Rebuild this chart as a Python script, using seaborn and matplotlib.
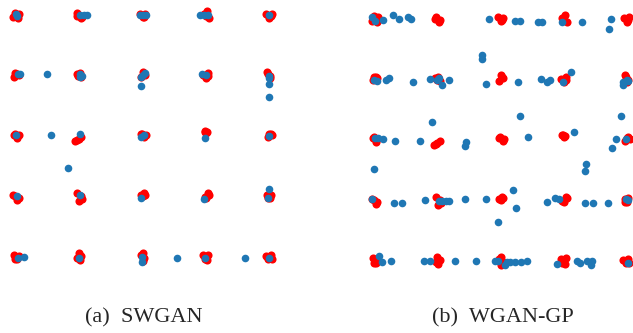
import matplotlib
matplotlib.use("Agg")
import matplotlib.pyplot as plt
import seaborn as sns

# real samples (red), 25 gaussians on a 5x5 grid, 4 samples each
real_x = [-2.04, -1.97, -1.95, -2.02, -1.03, -0.96, -0.98, -1.04, 0.00, 0.04, -0.04, 0.02, 1.02, 1.05, 0.97, 1.00, 1.96, 2.04, 2.00, 2.03,
          -1.99, -2.03, -1.96, -2.01, -1.04, -0.97, -0.99, -1.02, 0.01, 0.04, -0.03, 0.02, 1.03, 0.96, 1.00, 1.04, 1.97, 2.02, 1.99, 2.01,
          -2.03, -1.98, -1.96, -2.02, -1.06, -1.01, -0.97, -1.03, -0.02, 0.03, 0.05, -0.01, 0.98, 1.01, 1.02, 0.99, 2.03, 1.98, 2.05, 2.00,
          -2.05, -1.96, -1.99, -2.02, -1.03, -0.97, -0.95, -1.00, 0.02, -0.02, 0.04, 0.00, 1.03, 0.98, 1.05, 1.01, 1.97, 2.03, 2.01, 1.98,
          -2.03, -1.96, -1.98, -2.02, -1.01, -0.97, -0.99, -1.03, 0.01, -0.03, 0.03, 0.00, 0.96, 1.04, 1.02, 0.98, 1.95, 2.03, 2.04, 1.99]
real_y = [1.96, 1.95, 2.02, 2.04, 2.03, 1.97, 1.95, 1.99, 1.96, 2.01, 2.02, 1.97, 2.06, 1.95, 2.01, 1.98, 2.01, 2.02, 1.95, 1.98,
          1.03, 0.98, 1.01, 1.04, 1.02, 0.97, 1.04, 0.99, 1.06, 1.01, 0.97, 1.03, 1.04, 1.00, 0.96, 0.99, 1.06, 0.99, 1.03, 0.96,
          0.02, -0.04, 0.01, 0.04, -0.09, -0.05, -0.02, -0.07, 0.03, -0.02, 0.01, 0.04, 0.07, 0.05, 0.06, 0.08, 0.04, -0.02, 0.01, 0.03,
          -0.98, -1.02, -1.06, -1.00, -0.95, -0.99, -1.04, -1.07, -0.95, -0.98, -0.97, -1.00, -0.95, -1.01, -0.97, -1.03, -0.98, -0.97, -1.02, -1.03,
          -1.96, -1.98, -2.04, -2.03, -1.93, -1.98, -2.05, -2.02, -1.93, -1.97, -2.02, -2.06, -1.97, -1.96, -2.05, -2.03, -1.99, -1.97, -2.03, -2.04]

# generated samples (blue), SWGAN
swgan_x = [-2.00, -1.98, -0.99, -0.93, -0.88, -0.04, 0.01, 0.06, 0.91, 0.97, 1.04, 2.00,
           -1.97, -1.94, -1.51, -0.99, -0.96, -0.99, 0.04, 0.01, -0.02, -0.02, 0.94, 1.00, 2.00, 2.00, 2.00, 2.00,
           -2.00, -1.45, -0.99, -0.02, 0.02, 0.99, 2.00, -1.18,
           -1.98, -0.99, -0.02, 0.97, 2.00, 1.98,
           -1.97, -1.87, -1.00, -0.01, -0.01, 0.55, 0.99, 1.62, 2.00]
swgan_y = [2.02, 1.98, 2.00, 2.00, 2.00, 2.00, 2.00, 2.00, 2.00, 2.00, 2.00, 2.00,
           1.02, 1.02, 1.02, 1.02, 0.99, 0.97, 1.04, 1.01, 0.97, 0.83, 1.02, 1.01, 0.99, 0.96, 0.86, 0.65,
           0.02, 0.02, 0.03, -0.02, 0.02, -0.03, 0.00, -0.53,
           -0.99, -0.97, -1.02, -1.04, -0.88, -1.02,
           -2.02, -2.00, -2.02, -2.00, -2.08, -2.02, -2.02, -2.02, -2.02]

# generated samples (blue), WGAN-GP
wgan_x = [-2.04, -2.00, -1.87, -1.72, -1.62, -1.47, -1.43, -0.18, 0.23, 0.31, 0.59, 0.66, 0.97, 1.30, 1.75, 1.72,
          -0.30, -0.30,
          -2.01, -1.96, -1.83, -1.78, -1.39, -1.12, -0.98, -1.02, -0.94, -0.83, -0.23, 0.28, 0.64, 0.74, 0.78, 1.11, 0.99, 1.95, 1.95, 2.03, 2.00,
          -1.10, 0.30, 1.91,
          -2.00, -1.95, -1.87, -1.68, -1.29, -0.55, -0.56, 0.43, 1.17, 1.83, 1.99, 1.77,
          -2.01, 1.35, 1.34, 0.20, 0.25, -0.05,
          -2.04, -1.70, -1.57, -1.20, -0.98, -0.93, -0.87, -0.83, -0.57, -0.23, 0.73, 0.86, 0.93, 1.34, 1.47, 1.71, 2.02, 1.99,
          -1.93, -1.89, -1.74, -1.22, -1.12, -0.73, -0.40, -0.09, -0.04, 0.07, 0.10, 0.15, 0.23, 0.32, 0.42, 0.89, 1.21, 1.26, 1.37, 1.45, 1.43, 2.02]
wgan_y = [2.02, 1.96, 1.98, 2.06, 1.99, 2.03, 1.99, 1.99, 1.96, 1.96, 1.94, 1.94, 1.95, 1.95, 1.99, 1.82,
          1.40, 1.33,
          0.99, 0.97, 0.99, 1.02, 0.96, 1.00, 1.02, 0.99, 0.90, 0.99, 0.92, 0.95, 1.00, 0.96, 0.98, 1.12, 0.96, 0.96, 0.91, 0.97, 0.99,
          0.30, 0.39, 0.39,
          0.02, 0.02, 0.01, -0.02, -0.02, -0.03, -0.10, 0.05, 0.12, 0.01, 0.01, -0.13,
          -0.49, -0.40, -0.51, -0.83, -1.13, -1.36,
          -0.98, -1.04, -1.04, -1.00, -1.01, -1.01, -1.01, -1.01, -0.98, -0.98, -1.02, -0.97, -0.98, -1.04, -1.04, -1.04, -1.00, -0.98,
          -1.92, -2.02, -2.01, -2.00, -2.01, -2.00, -2.01, -2.01, -2.01, -2.07, -2.02, -2.02, -2.02, -2.02, -2.01, -2.05, -2.00, -2.03, -2.01, -2.00, -2.07, -2.03]

captions = ["(a)  SWGAN", "(b)  WGAN-GP"]

sns.set_style("white")
fig = plt.figure(figsize=(6.33, 3.33), dpi=100)

# axes placed in figure fractions, limits chosen so the grids line up
ax1 = fig.add_axes([3 / 633, 61 / 333, 280 / 633, 269 / 333])
ax2 = fig.add_axes([360 / 633, 58 / 333, 273 / 633, 272 / 333])

panels = [(ax1, swgan_x, swgan_y, (-2.206, 2.221), (-2.248, 2.198)),
          (ax2, wgan_x, wgan_y, (-2.237, 2.103), (-2.233, 2.256))]

for ax, gx, gy, xl, yl in panels:
    sns.scatterplot(x=real_x, y=real_y, color="red", s=34, linewidth=0, ax=ax, legend=False)
    sns.scatterplot(x=gx, y=gy, color="#1f77b4", s=30, linewidth=0, ax=ax, legend=False)
    ax.set_xlim(*xl)
    ax.set_ylim(*yl)
    ax.axis("off")

fig.text(144 / 633, 1 - 318 / 333, captions[0], ha="center", va="center",
         family="Liberation Serif", fontsize=16)
fig.text(503 / 633, 1 - 318 / 333, captions[1], ha="center", va="center",
         family="Liberation Serif", fontsize=16)

fig.savefig("out.png", dpi=100)
